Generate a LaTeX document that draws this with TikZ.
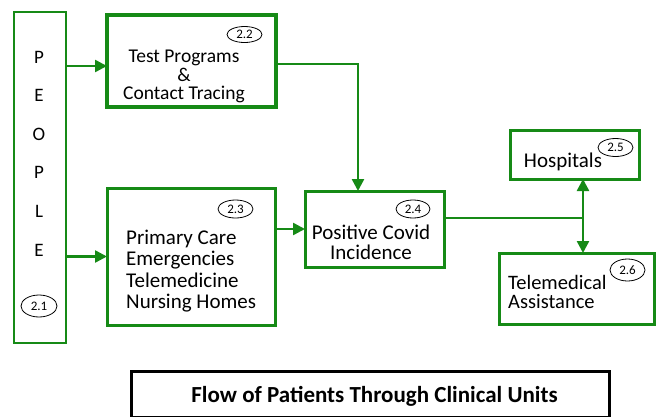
\documentclass[tikz,border=0pt]{standalone}
\usepackage{fontspec}
\setmainfont{Carlito}
\usetikzlibrary{arrows.meta}
\definecolor{grn}{RGB}{22,138,22}
\tikzset{
  unit/.style={draw=grn, line width=3pt, inner sep=0pt, outer sep=0pt, fill=white},
  tag/.style={draw=black, line width=0.8pt, ellipse, inner sep=0pt, font=\fontsize{13}{13}\selectfont},
  conn/.style={draw=grn, line width=2.5pt, -{Triangle[length=12pt,width=12pt]}},
  txt/.style={inner sep=0pt, font=\fontsize{21}{21}\selectfont},
}
\usetikzlibrary{shapes.geometric}
\begin{document}
\begin{tikzpicture}[x=1pt,y=-1pt]
\useasboundingbox (0,0) rectangle (657,416);
% boxes
\node[unit, line width=2.5pt, minimum width=52pt, minimum height=331pt] (people) at (40,177.5) {};
\node[unit, line width=3.5pt, minimum width=169pt, minimum height=92pt] (test) at (191.5,61) {};
\node[unit, minimum width=168pt, minimum height=137pt] (primary) at (191,256.5) {};
\node[unit, minimum width=139pt, minimum height=76pt] (positive) at (374.5,229) {};
\node[unit, minimum width=129pt, minimum height=49pt] (hosp) at (574.5,154.5) {};
\node[unit, minimum width=155pt, minimum height=71pt] (tele) at (576.5,288.5) {};
\node[draw=black, line width=3pt, inner sep=0pt, minimum width=478pt, minimum height=46pt] (title) at (370,394) {};
% texts
\node[txt, align=center, font=\fontsize{19}{38.6}\selectfont] (peopletxt) at (39,153.5) {P\\E\\O\\P\\L\\E};
\node[txt, align=center, font=\fontsize{19.5}{18.5}\selectfont] (testtxt) at (184,76.5) {Test Programs\\\&\\Contact Tracing};
\node[txt, align=left, anchor=west, font=\fontsize{21}{21.3}\selectfont] (primtxt) at (126,271) {Primary Care\\Emergencies\\Telemedicine\\Nursing Homes};
\node[txt, align=center, font=\fontsize{21}{20}\selectfont] (postxt) at (371,242.5) {Positive Covid\\Incidence};
\node[txt, anchor=base] (hosptxt) at (563,167) {Hospitals};
\node[txt, align=left, anchor=west, font=\fontsize{20.5}{18.5}\selectfont] (teletxt) at (508,292) {Telemedical\\Assistance};
\node[inner sep=0pt, anchor=base, font=\fontsize{23}{23}\selectfont\bfseries] (titletxt) at (374.5,402) {Flow of Patients Through Clinical Units};
% tags
\node[tag, minimum width=36pt, minimum height=22pt] (t1) at (39,306) {2.1};
\node[tag, minimum width=35pt, minimum height=16pt] (t2) at (244.5,34.5) {2.2};
\node[tag, minimum width=35pt, minimum height=18pt] (t3) at (235.5,209) {2.3};
\node[tag, minimum width=34pt, minimum height=18pt] (t4) at (413,209) {2.4};
\node[tag, minimum width=35pt, minimum height=18pt] (t5) at (615.5,147.5) {2.5};
\node[tag, minimum width=35pt, minimum height=22pt] (t6) at (627.5,270) {2.6};
% connectors
\coordinate (r1) at (0,66);
\draw[conn] (people.east|-r1) -- (test.west|-r1);
\draw[conn] (people.east|-primary.west) -- (primary.west);
\draw[conn] (primary.east|-positive.west) -- (positive.west);
\coordinate (c2) at (358,64);
\draw[conn] (test.east|-c2) -- (c2) -- (c2|-positive.north);
\coordinate (j) at (583,218);
\draw[draw=grn, line width=2pt] (positive.east|-j) -- (j);
\draw[conn, {Triangle[length=12pt,width=12pt]}-{Triangle[length=12pt,width=12pt]}] (j|-hosp.south) -- (j|-tele.north);
\end{tikzpicture}
\end{document}
